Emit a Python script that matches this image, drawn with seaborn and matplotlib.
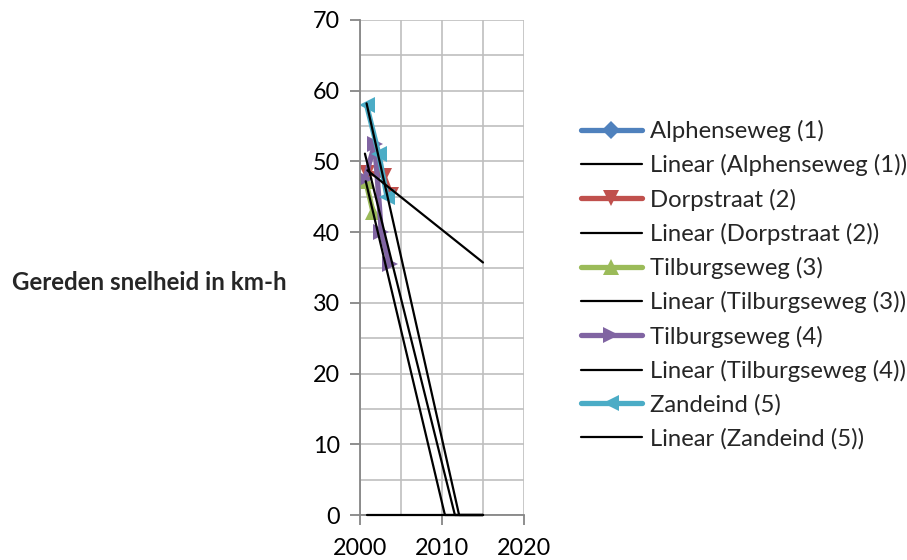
import numpy as np
import pandas as pd
import matplotlib
matplotlib.use("Agg")
import matplotlib.pyplot as plt
import seaborn as sns
from matplotlib.ticker import MultipleLocator

# ---- data ----
series_names = ["Alphenseweg (1)", "Dorpstraat (2)", "Tilburgseweg (3)",
                "Tilburgseweg (4)", "Zandeind (5)"]
alphenseweg_years = [2000.8, 2002.9, 2003.8]
alphenseweg_speed = [np.nan, np.nan, np.nan]          # no readings (blank cells)
dorpstraat_years = [2000.9, 2002.9, 2003.8]
dorpstraat_speed = [48.4, 48.0, 45.3]
tilburg3_years = [2000.7, 2001.6]
tilburg3_speed = [47.2, 42.8]
tilburg4_years = [2000.6, 2001.8, 2002.6, 2003.6]
tilburg4_speed = [47.5, 52.5, 40.0, 35.5]
zandeind_years = [2000.8, 2002.3, 2003.3]
zandeind_speed = [58.0, 51.0, 45.0]
trend_forecast_to = 2015

x_ticks = [2000, 2010, 2020]
y_ticks = [0, 10, 20, 30, 40, 50, 60, 70]
y_label = "Gereden snelheid in km-h"

colors = ["#4F81BD", "#C0504D", "#9BBB59", "#8064A2", "#4BACC6"]
markers = ["D", "v", "^", ">", "<"]
msizes = [9, 12, 12, 12, 12]

all_years = [alphenseweg_years, dorpstraat_years, tilburg3_years,
             tilburg4_years, zandeind_years]
all_speed = [alphenseweg_speed, dorpstraat_speed, tilburg3_speed,
             tilburg4_speed, zandeind_speed]

sns.set_theme(style="white")
plt.rcParams["font.family"] = ["Lato", "DejaVu Sans"]

fig = plt.figure(figsize=(9.07, 5.6), dpi=100)
ax = fig.add_axes([360 / 907, 1 - 515 / 560, 164 / 907, 495 / 560])

handles = []
for name, xs, ys, c, m, ms in zip(series_names, all_years, all_speed,
                                  colors, markers, msizes):
    df = pd.DataFrame({"jaar": xs, "snelheid": ys})
    sns.lineplot(data=df, x="jaar", y="snelheid", ax=ax, color=c,
                 marker=m, markersize=ms, markeredgewidth=0, linewidth=3.8,
                 sort=False, estimator=None, legend=False, zorder=2)
    data_line = ax.lines[-1]
    # linear trendline (blank cells count as zero, like the spreadsheet)
    yfit = np.nan_to_num(np.array(ys, dtype=float))
    slope, icpt = np.polyfit(xs, yfit, 1)
    tx = np.linspace(min(xs), trend_forecast_to, 400)
    ty = np.clip(slope * tx + icpt, 0, 70)
    tdf = pd.DataFrame({"jaar": tx, "snelheid": ty})
    sns.lineplot(data=tdf, x="jaar", y="snelheid", ax=ax, color="black",
                 linewidth=1.6, sort=False, estimator=None, legend=False,
                 zorder=3)
    trend_line = ax.lines[-1]
    trend_line.set_clip_on(False)
    handles += [data_line, trend_line]

labels = []
for n in series_names:
    labels += [n, f"Linear ({n})"]

ax.set_xlim(2000, 2020)
ax.set_ylim(0, 70)
ax.set_xticks(x_ticks)
ax.set_yticks(y_ticks)
ax.xaxis.set_minor_locator(MultipleLocator(5))
ax.yaxis.set_minor_locator(MultipleLocator(5))
ax.grid(True, which="both", color="#BFBFBF", linewidth=1.2)
ax.set_axisbelow(True)
for s in ["top", "right"]:
    ax.spines[s].set_visible(False)
for s in ["left", "bottom"]:
    ax.spines[s].set_color("#868686")
    ax.spines[s].set_linewidth(1.3)
ax.tick_params(axis="both", which="major", direction="out", length=7.5,
               width=1.3, color="#868686", labelsize=16.8, labelcolor="black",
               left=True, bottom=True)
ax.tick_params(axis="x", which="major", pad=9)
ax.tick_params(axis="y", which="major", pad=7)
ax.tick_params(which="minor", length=0)
ax.set_xlabel("")
ax.set_ylabel("")

fig.text(149 / 907, 1 - 283 / 560, y_label, ha="center", va="center",
         fontsize=17.4, fontweight="bold")

fig.legend(handles, labels, loc="upper left",
           bbox_to_anchor=(581 / 907, 1 - 120 / 560), frameon=False,
           fontsize=17.2, handlelength=2.55, handletextpad=0.35,
           labelspacing=0.51, borderpad=0, borderaxespad=0)

fig.savefig("out.png", dpi=100)
